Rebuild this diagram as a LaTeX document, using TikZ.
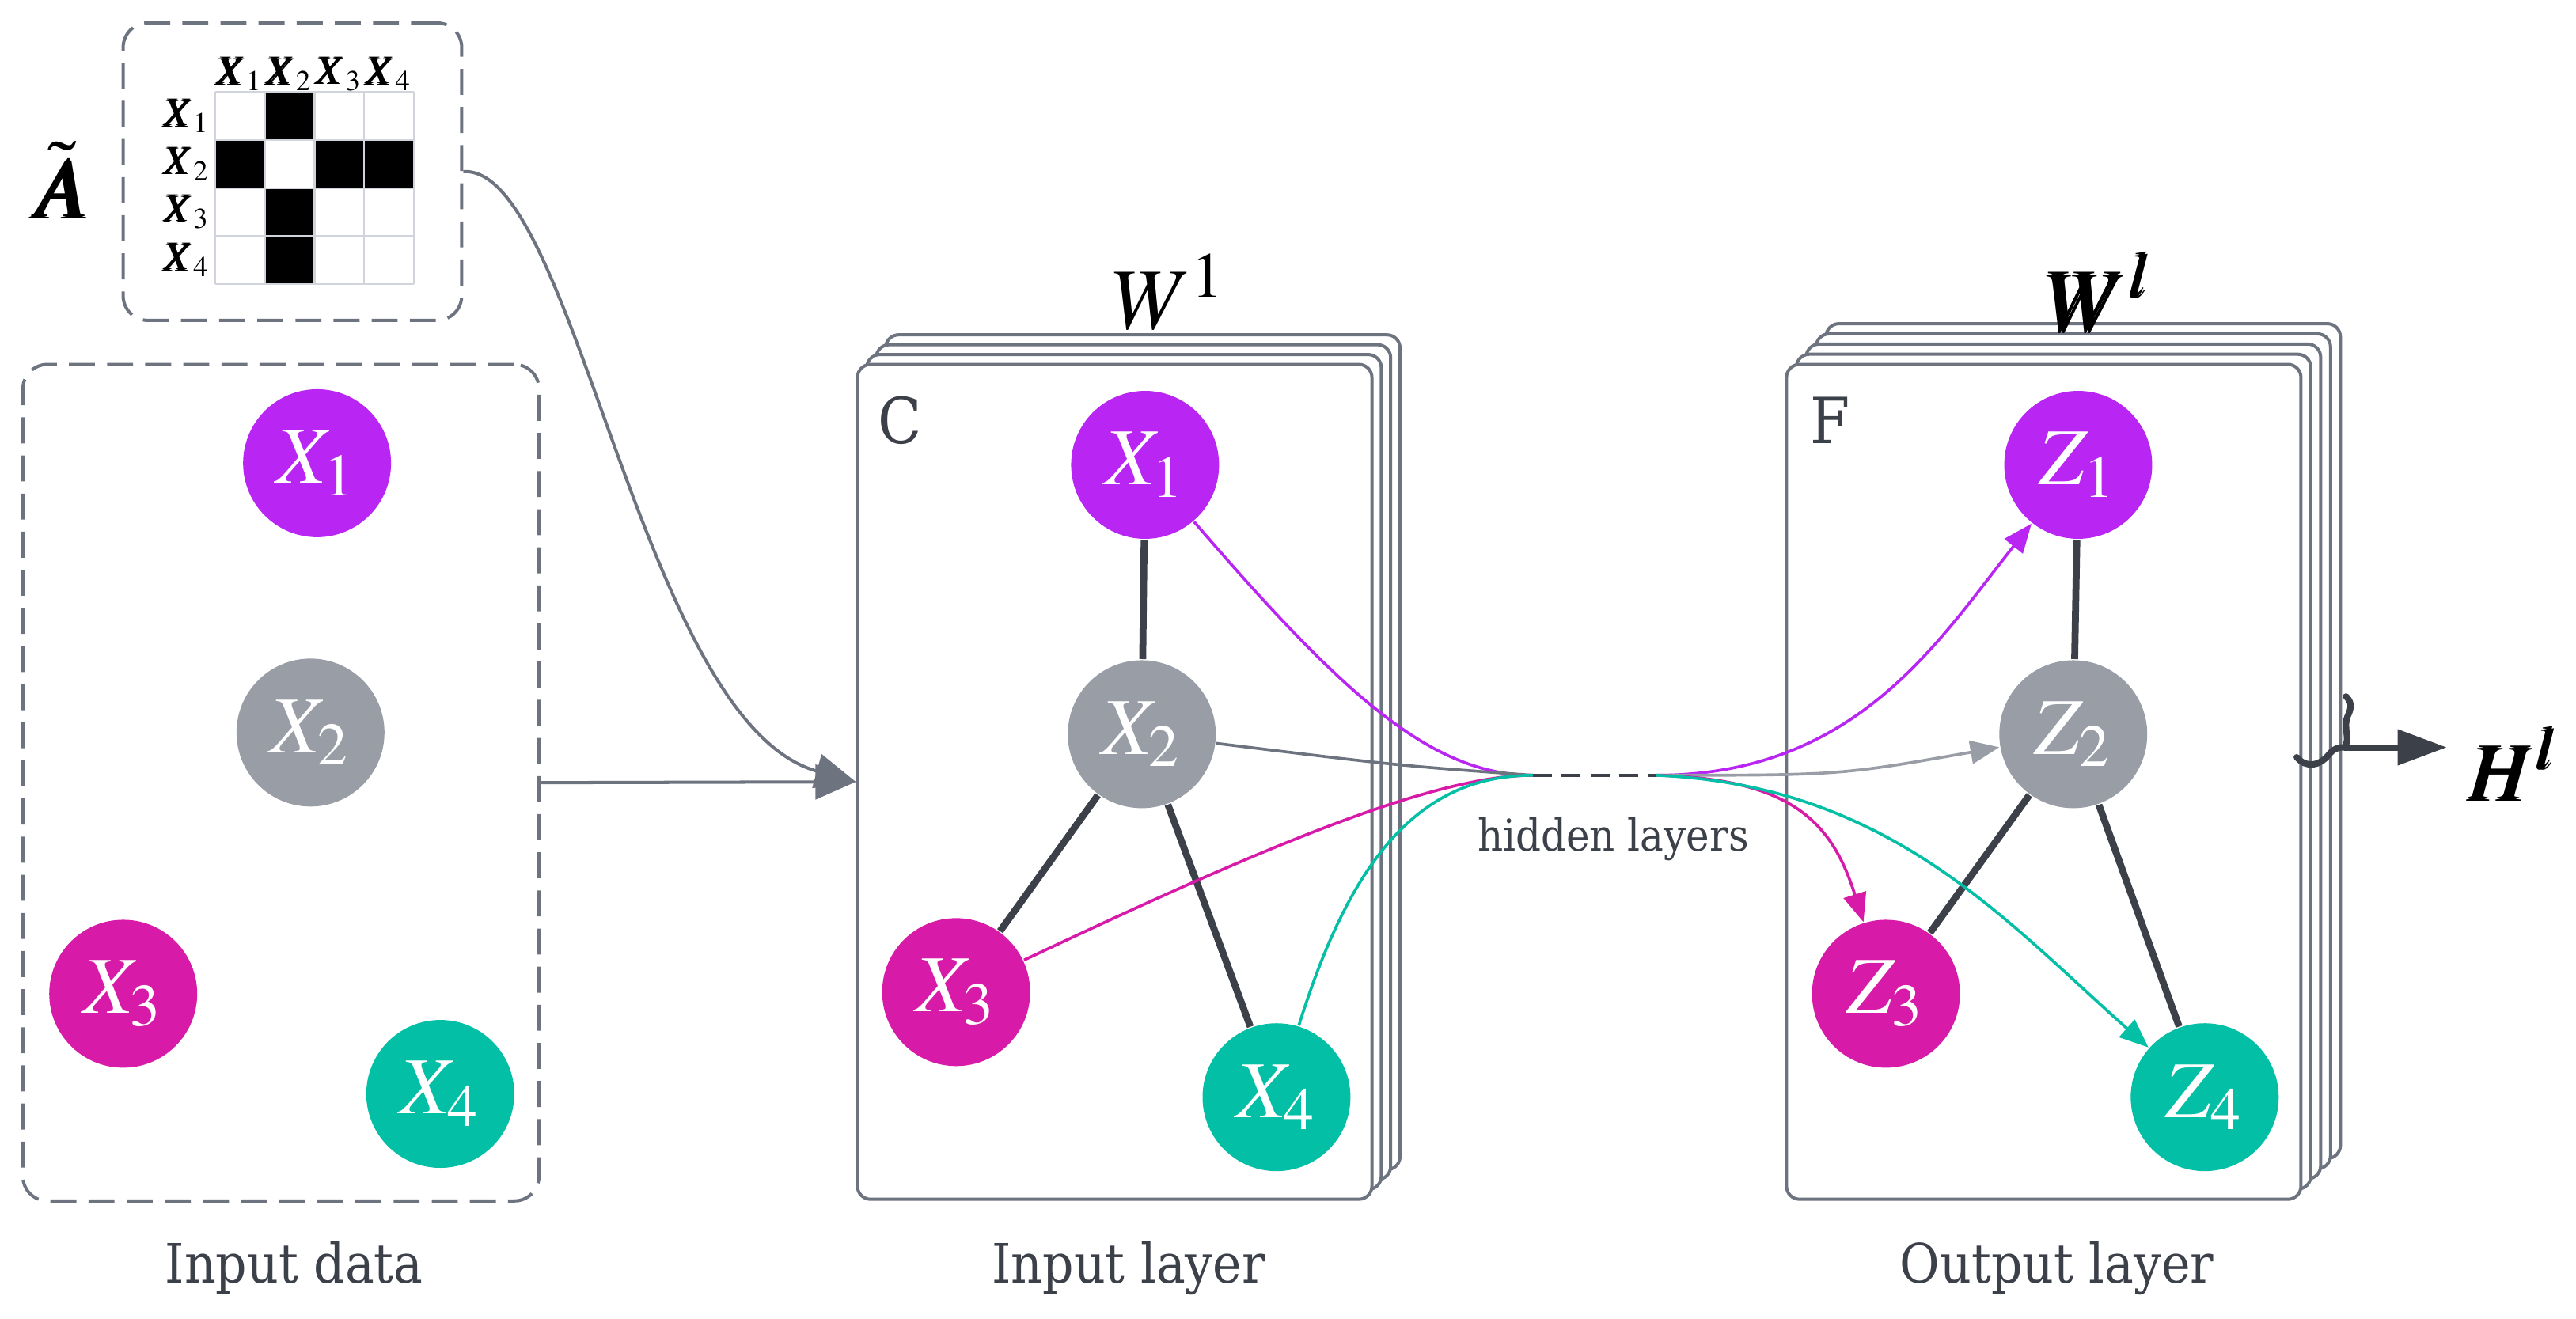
\documentclass[tikz,border=0pt]{standalone}
\usepackage{amsmath}
\usepackage{mathptmx}
\usepackage{bm}
\usepackage{fontspec}
\setmainfont{DejaVu Serif Condensed}
\usepackage{xcolor}
\usetikzlibrary{positioning,arrows.meta}

\definecolor{cpurple}{HTML}{B925F2}
\definecolor{cgray}{HTML}{989DA6}
\definecolor{cmagenta}{HTML}{D71AA8}
\definecolor{cteal}{HTML}{02BFA5}
\definecolor{edgedark}{HTML}{3B4049}
\definecolor{outline}{HTML}{6E7380}
\definecolor{gridgray}{HTML}{D1D5DB}
\definecolor{txt}{HTML}{3B4049}

\begin{document}
\begin{tikzpicture}
            [x=0.01cm,y=-0.01cm,
             every node/.style={font=\fontsize{9.4}{11}\selectfont, text=txt},
             nd/.style={circle, minimum size=0.9cm, inner sep=0pt, text=white, font=\fontsize{14}{16}\selectfont},
             card/.style={draw=outline, line width=0.55pt, fill=white, rounded corners=0.8mm, minimum width=3.13cm, minimum height=5.08cm, inner sep=0pt},
             dbox/.style={draw=outline, line width=0.55pt, dash pattern=on 4.5pt off 2.1pt, rounded corners=1.5mm, inner sep=0pt},
             mlab/.style={text=black, font=\fontsize{7}{8}\selectfont, inner sep=0pt},
             gedge/.style={draw=edgedark, line width=1.2pt},
             flow/.style={line width=0.5pt},
             tip/.style={-{Triangle[length=5pt,width=4pt]}}]
            \useasboundingbox (0,0) rectangle (1568,803);

            % adjacency matrix
            \node[dbox, minimum width=2.06cm, minimum height=1.81cm] (adj) at (178,104.5) {};
            \node[text=black, font=\fontsize{15}{18}\selectfont] (atil) at (38,110) {$\tilde{\bm{A}}$};
            \foreach \r/\c in {1/2, 2/1, 2/3, 2/4, 3/2, 4/2}
            \fill (131+30.25*\c-30.25, 56+29.25*\r-29.25) rectangle +(30.25,29.25);
            \foreach \i in {0,...,4} {
              \draw[gridgray, line width=0.3pt] (131+30.25*\i,56) -- (131+30.25*\i,173);
              \draw[gridgray, line width=0.3pt] (131,56+29.25*\i) -- (252,56+29.25*\i);
            }
            \foreach \i in {1,...,4} {
              \node[mlab] (col\i) at (146+30.25*\i-30.25,45) {$\bm{X}_{\i}$};
              \node[mlab, anchor=east] (row\i) at (129,70.6+29.25*\i-29.25) {$\bm{X}_{\i}$};
            }

            % input data
            \node[dbox, minimum width=3.14cm, minimum height=5.09cm] (data) at (171,476.5) {};
            \node[nd, fill=cpurple] (d1) at (193,282) {$X_1$};
            \node[nd, fill=cgray] (d2) at (189,446) {$X_2$};
            \node[nd, fill=cmagenta] (d3) at (75,605) {$X_3$};
            \node[nd, fill=cteal] (d4) at (268,666) {$X_4$};
            \node (lbdata) at (179,772) {Input data};

            % input layer
            \foreach \i in {3,2,1}
            \node[card] at (678.5+5.7*\i,476-6*\i) {};
            \node[card] (inlay) at (678.5,476) {};
            \node[font=\fontsize{11}{13}\selectfont] (lbc) at (548,256) {C};
            \node[text=black, font=\fontsize{15}{18}\selectfont] (w1) at (712,178) {$W^1$};
            \node[nd, fill=cpurple] (x1) at (697,283) {$X_1$};
            \node[nd, fill=cgray] (x2) at (695,447) {$X_2$};
            \node[nd, fill=cmagenta] (x3) at (582,604) {$X_3$};
            \node[nd, fill=cteal] (x4) at (777,668) {$X_4$};
            \node (lbin) at (687,772) {Input layer};

            % output layer
            \foreach \i in {4,3,2,1}
            \node[card] at (1244+6*\i,476-6.2*\i) {};
            \node[card] (outlay) at (1244,476) {};
            \node[font=\fontsize{11}{13}\selectfont] (lbf) at (1114,256) {F};
            \node[text=black, font=\fontsize{15}{18}\selectfont] (wl) at (1278,178) {$\bm{W}^{\bm{l}}$};
            \node[nd, fill=cpurple] (z1) at (1265,283) {$Z_1$};
            \node[nd, fill=cgray] (z2) at (1262,447) {$Z_2$};
            \node[nd, fill=cmagenta] (z3) at (1148,605) {$Z_3$};
            \node[nd, fill=cteal] (z4) at (1342,668) {$Z_4$};
            \node (lbout) at (1252,772) {Output layer};
            \node[text=black, font=\fontsize{14}{16}\selectfont] (hout) at (1530,465) {$\bm{H}^{\bm{l}}$};

            \foreach \from/\to in {x1/x2, x2/x3, x2/x4, z1/z2, z2/z3, z2/z4}
            \draw[gedge] (\from) -- (\to);

            % inputs into the first layer
            \draw[outline, line width=0.55pt, -{Triangle[length=7pt,width=6pt]}] (data.east) -- (inlay.west);
            \draw[outline, line width=0.55pt, -{Triangle[length=7pt,width=6pt]}] (adj.east) .. controls (350,100) and (390,440) .. (inlay.west);

            % hidden layers
            \coordinate (hl) at (933,472);
            \coordinate (hr) at (1008,472);
            \draw[edgedark, line width=0.6pt, dash pattern=on 3.3pt off 1.7pt] (hl) -- (hr);
            \node[font=\fontsize{7.6}{9}\selectfont] (lbhid) at (982,511) {hidden layers};
            \draw[flow, cpurple] (x1) .. controls (815,420) and (870,472) .. (hl);
            \draw[flow, outline] (x2) .. controls (850,466) .. (hl);
            \draw[flow, cmagenta] (x3) .. controls (760,520) and (870,472) .. (hl);
            \draw[flow, cteal] (x4) .. controls (820,530) and (860,472) .. (hl);
            \draw[flow, cpurple, tip] (hr) .. controls (1130,472) and (1180,390) .. (z1);
            \draw[flow, cgray, tip] (hr) .. controls (1120,472) .. (z2);
            \draw[flow, cmagenta, tip] (hr) .. controls (1090,474) and (1115,500) .. (z3);
            \draw[flow, cteal, tip] (hr) .. controls (1150,478) and (1220,560) .. (z4);

            % output
            \coordinate (brk) at (1427,455);
            \draw[edgedark, line width=1.1pt, line cap=round] (1398,461) .. controls (1404,468) and (1412,466) .. (1417,460) .. controls (1421,455) and (1424,455) .. (brk) .. controls (1431,450) and (1426,443) .. (1429,436) .. controls (1432,430) and (1431,427) .. (1428,424);
            \draw[edgedark, line width=1.1pt, -{Triangle[length=8.5pt,width=6pt]}] (brk) -- (brk -| hout.west);
          \end{tikzpicture}
\end{document}
